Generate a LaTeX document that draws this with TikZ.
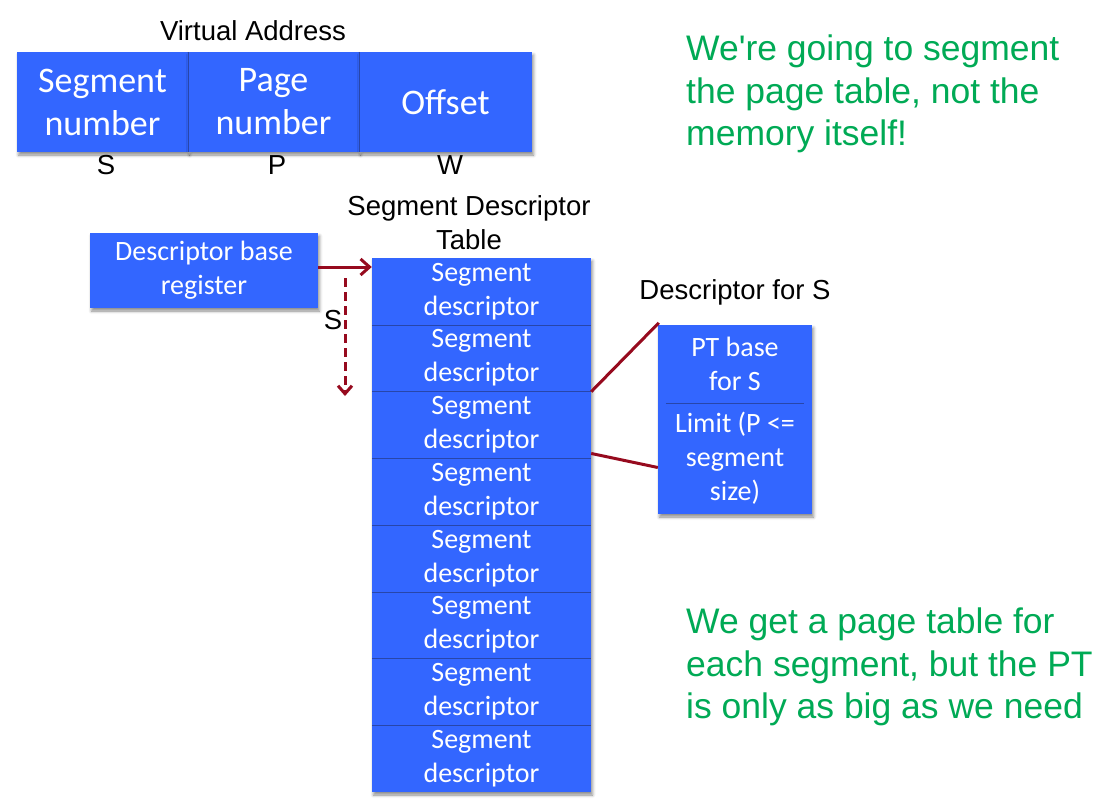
\documentclass[tikz,border=0pt]{standalone}
\usepackage{fontspec}
\setmainfont{Liberation Sans}
\newfontfamily\boxfont{Carlito}
\usetikzlibrary{arrows.meta,shadows.blur}
\definecolor{boxblue}{RGB}{51,102,255}
\definecolor{cellline}{RGB}{40,70,170}
\definecolor{linkred}{RGB}{150,10,30}
\definecolor{notegreen}{RGB}{0,170,85}

\begin{document}
\begin{tikzpicture}[x=1pt,y=-1pt,
  boxshadow/.style={blur shadow={shadow xshift=1.5pt,shadow yshift=-3pt,shadow blur radius=3pt,shadow opacity=45}},
  cell/.style={fill=boxblue,inner sep=0pt,text=white,align=center},
  bigcell/.style={cell,font=\boxfont\fontsize{36}{43}\selectfont},
  smallcell/.style={cell,font=\boxfont\fontsize{28}{34}\selectfont},
  caption/.style={font=\fontsize{27.5}{34}\selectfont,align=center,inner sep=0pt},
  note/.style={font=\fontsize{35.5}{42.5}\selectfont,text=notegreen,align=left,inner sep=0pt,anchor=north west},
  link/.style={draw=linkred,line width=3pt},
  divider/.style={draw=cellline,line width=0.8pt}
]
\useasboundingbox (0,0) rectangle (1114,801);

% Virtual address fields
\node[caption] (vatitle) at (253,31) {Virtual Address};
\node[bigcell,boxshadow,minimum width=171pt,minimum height=100pt] (va1) at (102.5,102) {Segment\\number};
\node[bigcell,boxshadow,minimum width=171pt,minimum height=100pt] (va2) at (273.5,102) {Page\\number};
\node[bigcell,boxshadow,minimum width=173pt,minimum height=100pt] (va3) at (445.5,102) {Offset};
\draw[divider] (va1.north east) -- (va1.south east);
\draw[divider] (va2.north east) -- (va2.south east);
\node[caption] (sS) at (106,165) {S};
\node[caption] (sP) at (277,165) {P};
\node[caption] (sW) at (450,165) {W};

% Descriptor base register
\node[smallcell,boxshadow,minimum width=228pt,minimum height=75pt] (dbr) at (204,270.5) {Descriptor base\\register};

% Segment descriptor table
\node[caption] (sdttitle) at (469,223) {Segment Descriptor\\Table};
\fill[boxblue,boxshadow] (372,258) rectangle (591,792);
\foreach \i in {1,...,8}{
  \node[smallcell,minimum width=219pt,minimum height=66.75pt] (d\i) at (481.5,{258+66.75*(\i-0.5)}) {Segment\\descriptor};
}
\foreach \i in {1,...,7}{
  \draw[divider] (d\i.south west) -- (d\i.south east);
}

% Base register points at the table; S indexes into it
\draw[link,-{Straight Barb[length=9pt,width=16pt,line width=3pt]}] ([yshift=3.5pt]dbr.east) -- ([yshift=3.5pt]dbr.east -| d1.west);
\coordinate (idxstart) at (345,278);
\coordinate (idxend) at (345,396);
\draw[link,dashed,dash pattern=on 9pt off 5pt,-{Straight Barb[length=8pt,width=14pt,line width=3pt]}] (idxstart) -- (idxend);
\node[caption] (idxlabel) at (333,320) {S};

% Expanded descriptor
\node[caption] (desctitle) at (735,292) {Descriptor for S};
\fill[boxblue,boxshadow] (658,325) rectangle (812,514);
\node[smallcell,minimum width=154pt,minimum height=78pt] (ptbase) at (735,364) {PT base\\for S};
\node[smallcell,minimum width=154pt,minimum height=111pt] (ptlimit) at (735,458.5) {Limit (P <=\\segment\\size)};
\draw[draw=cellline,line width=0.5pt] ([xshift=8pt]ptbase.south west) -- ([xshift=-8pt]ptbase.south east);
\draw[link] (d2.south east) -- ([xshift=1pt,yshift=2pt]ptbase.north west);
\draw[link] ([yshift=5pt]d3.south east) -- ([yshift=-9pt]ptlimit.west);

% Notes
\node[note] (note1) at (686,35) {We\textquotesingle re going to segment\\the page table, not the\\memory itself!};
\node[note] (note2) at (686,608) {We get a page table for\\each segment, but the PT\\is only as big as we need};
\end{tikzpicture}
\end{document}
